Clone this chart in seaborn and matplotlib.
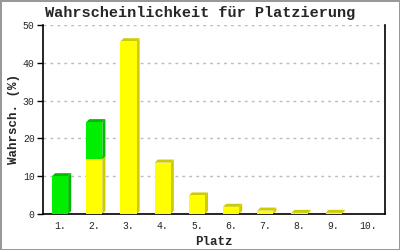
import matplotlib
matplotlib.use("Agg")
import matplotlib.pyplot as plt
import seaborn as sns
import pandas as pd
from matplotlib.patches import Polygon

places = ["1.", "2.", "3.", "4.", "5.", "6.", "7.", "8.", "9.", "10."]
yellow_vals = [0, 14.5, 45.7, 13.6, 4.9, 1.9, 0.9, 0.3, 0.3, 0.0]
green_vals = [10.0, 9.8, 0, 0, 0, 0, 0, 0, 0, 0]
yticks = [0, 10, 20, 30, 40, 50]

sns.set_style("white")
plt.rcParams['font.family'] = ['Liberation Mono', 'DejaVu Sans Mono']

fig = plt.figure(figsize=(4, 2.5), dpi=100, linewidth=2, edgecolor="#999999")
ax = fig.add_axes([0.1075, 0.144, 0.855, 0.756])

df = pd.DataFrame({"Platz": places, "gelb": yellow_vals, "gruen": green_vals})
sns.barplot(data=df, x="Platz", y="gelb", color="#FFFF00", saturation=1, width=0.47,
            linewidth=0, edgecolor="none", ax=ax, zorder=3)
n_y = len(ax.patches)
sns.barplot(data=df, x="Platz", y="gruen", bottom=df["gelb"], color="#00EE00", saturation=1,
            width=0.47, linewidth=0, edgecolor="none", ax=ax, zorder=3)

dx, dy = 0.09, 0.8
shade = {0: "#CCCC00", 1: "#00BB00"}
for i, p in enumerate(list(ax.patches)):
    grp = 0 if i < n_y else 1
    h = p.get_height()
    if h <= 0:
        continue
    x0 = p.get_x(); x1 = x0 + p.get_width()
    y0 = p.get_y(); y1 = y0 + h
    side = Polygon([(x1, y0), (x1 + dx, y0 + dy), (x1 + dx, y1 + dy), (x1, y1)],
                   closed=True, facecolor=shade[grp], edgecolor="none", zorder=2.5)
    top = Polygon([(x0, y1), (x0 + dx, y1 + dy), (x1 + dx, y1 + dy), (x1, y1)],
                  closed=True, facecolor=shade[grp], edgecolor="none", zorder=2.5)
    ax.add_patch(side); ax.add_patch(top)

ax.set_ylim(0, 50)
ax.set_xlim(-0.5, 9.5)
ax.set_yticks(yticks)
ax.set_yticklabels([str(t) for t in yticks], fontsize=7)
ax.set_xticks(range(len(places)))
ax.set_xticklabels(places, fontsize=7)
ax.tick_params(axis="y", direction="out", length=4, width=1, color="black", pad=2, left=True)
ax.tick_params(axis="x", length=0, pad=5)
ax.yaxis.grid(True, linestyle=(0, (2, 3)), color="#BBBBBB", linewidth=1, zorder=0)
ax.set_axisbelow(True)
for s in ["left", "right", "bottom"]:
    ax.spines[s].set_color("black")
    ax.spines[s].set_linewidth(1.2)
    ax.spines[s].set_visible(True)
ax.spines["top"].set_visible(False)

ax.set_ylabel("Wahrsch. (%)", fontsize=9, fontweight="bold")
ax.yaxis.set_label_coords(-0.068, 0.5)
ax.set_xlabel("Platz", fontsize=9, fontweight="bold")
ax.xaxis.set_label_coords(0.5, -0.115)
fig.text(0.5, 0.948, "Wahrscheinlichkeit für Platzierung", ha="center", va="center",
         fontsize=11, fontweight="bold")

fig.savefig("out.png", dpi=100, edgecolor=fig.get_edgecolor())
